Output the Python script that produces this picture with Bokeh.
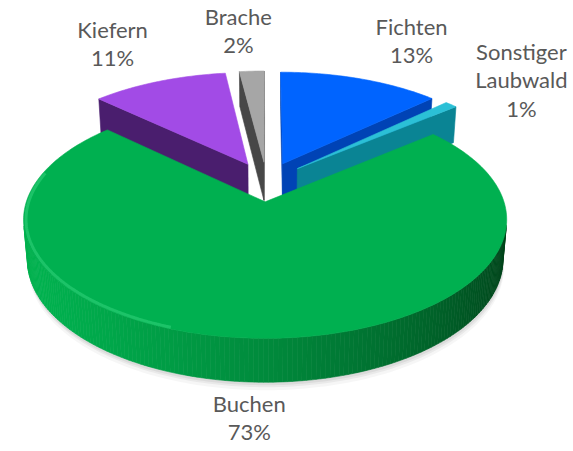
import math
import numpy as np
from bokeh.plotting import figure
from bokeh.models import Range1d, ColumnDataSource
from bokeh.embed import file_html
from bokeh.resources import INLINE
from bokeh.core.properties import value

# ---------------- data ----------------
categories = ["Fichten", "Sonstiger Laubwald", "Buchen", "Kiefern", "Brache"]
shares = [13, 1, 73, 11, 2]

# ---------------- styles ----------------
top_colors = ["#0064FF", "#2BC0D6", "#00B050", "#A24BE6", "#A6A6A6"]
wall_colors = ["#0043B5", "#0A8494", "#007A33", "#4A1E6E", "#474747"]
wall_dark = ["#002A80", "#05525C", "#003A16", "#2E1247", "#2A2A2A"]
wall_light = ["#1A6BFF", "#17A9BC", "#00B24F", "#6A2F9C", "#8C8C8C"]
TEXT_COLOR = "#595959"
FONT = "Lato"

# ---------------- layout ----------------
W, H = 573, 451
CX, CY = 266.0, 181.0
FOCAL = 1395.0
DIST = 6.0
TILT = math.radians(28.2)
THICK = 0.192
EXPLODE = 0.18
LABEL_R = [1.58, 1.48, 1.455, 1.56, 1.55]
LABEL_NUDGE = [2.8, 1.4, 0.2, -0.9, -1.6]
LINE_GAP = 28.5

ST, CT = math.sin(TILT), math.cos(TILT)
CAM = np.array([0.0, -DIST * CT, DIST * ST])
LIGHT = np.array([-1.0, -0.35])
LIGHT = LIGHT / np.linalg.norm(LIGHT)


def proj(X, Y, Z):
    X = np.asarray(X, float)
    Y = np.asarray(Y, float)
    Z = np.asarray(Z, float)
    depth = Y * CT + DIST - Z * ST
    up = Y * ST + Z * CT
    return (CX + FOCAL * X / depth).tolist(), (CY - FOCAL * up / depth).tolist()


def hex2rgb(h):
    h = h.lstrip("#")
    return [int(h[k:k + 2], 16) for k in (0, 2, 4)]


def mix(c1, c2, f):
    a, b = hex2rgb(c1), hex2rgb(c2)
    return "#%02x%02x%02x" % tuple(int(round(a[k] + (b[k] - a[k]) * f)) for k in range(3))


total = float(sum(shares))
slices = []
acc = 0.0
for i, s in enumerate(shares):
    a0 = acc
    a1 = acc + 360.0 * s / total
    acc = a1
    bis = math.radians((a0 + a1) / 2)
    ox, oy = EXPLODE * math.sin(bis), EXPLODE * math.cos(bis)
    key = oy + 0.5 * math.cos(bis)
    slices.append(dict(i=i, a0=a0, a1=a1, bis=bis, ox=ox, oy=oy, key=key))

shadow_xs, shadow_ys = [], []
face_xs, face_ys, face_cols = [], [], []
rim_xs, rim_ys = [], []

for sl in sorted(slices, key=lambda d: -d["key"]):
    i, a0, a1, ox, oy = sl["i"], sl["a0"], sl["a1"], sl["ox"], sl["oy"]
    n = max(3, int(math.ceil(a1 - a0)) + 1)
    th = np.radians(np.linspace(a0, a1, n))
    ax = ox + np.sin(th)
    ay = oy + np.cos(th)

    # shadow of bottom face
    bx = [ox] + ax.tolist()
    by = [oy] + ay.tolist()
    sx, sy = proj(bx, by, [-THICK] * len(bx))
    shadow_xs.append(sx)
    shadow_ys.append(sy)

    # radial walls
    for ang, sign in ((a0, -1.0), (a1, 1.0)):
        t = math.radians(ang)
        nrm = np.array([sign * math.cos(t), -sign * math.sin(t), 0.0])
        px, py = ox + math.sin(t), oy + math.cos(t)
        P = np.array([(ox + px) / 2, (oy + py) / 2, -THICK / 2])
        if np.dot(CAM - P, nrm) > 0:
            xs, ys = proj([ox, px, px, ox], [oy, py, py, oy], [0, 0, -THICK, -THICK])
            face_xs.append(xs)
            face_ys.append(ys)
            face_cols.append(wall_colors[i])

    # outer wall
    for j in range(n - 1):
        m = (th[j] + th[j + 1]) / 2
        nrm = np.array([math.sin(m), math.cos(m), 0.0])
        P = np.array([ox + math.sin(m), oy + math.cos(m), -THICK / 2])
        if np.dot(CAM - P, nrm) > 0:
            f = 0.5 + 0.5 * float(np.dot(nrm[:2], LIGHT))
            xs, ys = proj([ax[j], ax[j + 1], ax[j + 1], ax[j]],
                          [ay[j], ay[j + 1], ay[j + 1], ay[j]],
                          [0, 0, -THICK, -THICK])
            face_xs.append(xs)
            face_ys.append(ys)
            face_cols.append(mix(wall_dark[i], wall_light[i], f))

    # top face
    tx, ty = proj([ox] + ax.tolist(), [oy] + ay.tolist(), [0] * (n + 1))
    face_xs.append(tx)
    face_ys.append(ty)
    face_cols.append(top_colors[i])

    # rim highlight on the big front slice
    if (a1 - a0) > 180:
        rt = np.radians(np.linspace(max(a0, 200), min(a1, 285), 80))
        rx, ry = proj(ox + 0.99 * np.sin(rt), oy + 0.99 * np.cos(rt), np.zeros(len(rt)))
        rim_xs.append(rx)
        rim_ys.append(ry)

p = figure(width=W, height=H, x_range=Range1d(0, W), y_range=Range1d(H, 0),
           output_backend="svg", toolbar_location=None, min_border=0)
p.axis.visible = False
p.grid.visible = False
p.outline_line_color = None
p.background_fill_color = "white"
p.border_fill_color = "white"

for dx, dy, al in [(1, 8, 0.035), (1, 5, 0.05), (0.5, 3, 0.06)]:
    p.patches(xs=[[v + dx for v in xs] for xs in shadow_xs],
              ys=[[v + dy for v in ys] for ys in shadow_ys],
              fill_color="black", fill_alpha=al, line_color=None)

src = ColumnDataSource(dict(xs=face_xs, ys=face_ys, c=face_cols))
p.patches(xs="xs", ys="ys", fill_color="c", line_color="c", line_width=0.6, source=src)

if rim_xs:
    p.multi_line(xs=rim_xs, ys=rim_ys, line_color="#45E08C", line_alpha=0.4, line_width=3)

# labels
lx, ly, lt = [], [], []
for sl in slices:
    i = sl["i"]
    ang = sl["bis"] + math.radians(LABEL_NUDGE[i])
    X = sl["ox"] + LABEL_R[i] * math.sin(ang)
    Y = sl["oy"] + LABEL_R[i] * math.cos(ang)
    cx, cy = proj([X], [Y], [0])
    lines = categories[i].split(" ") + ["%d%%" % shares[i]]
    nl = len(lines)
    for k, line in enumerate(lines):
        lx.append(cx[0])
        ly.append(cy[0] + (k - (nl - 1) / 2.0) * LINE_GAP)
        lt.append(line)

p.text(x=lx, y=ly, text=lt, text_align="center", text_baseline="middle",
       text_font=value(FONT), text_font_size="22px", text_color=TEXT_COLOR)

open("out.html", "w").write(file_html(p, INLINE))
